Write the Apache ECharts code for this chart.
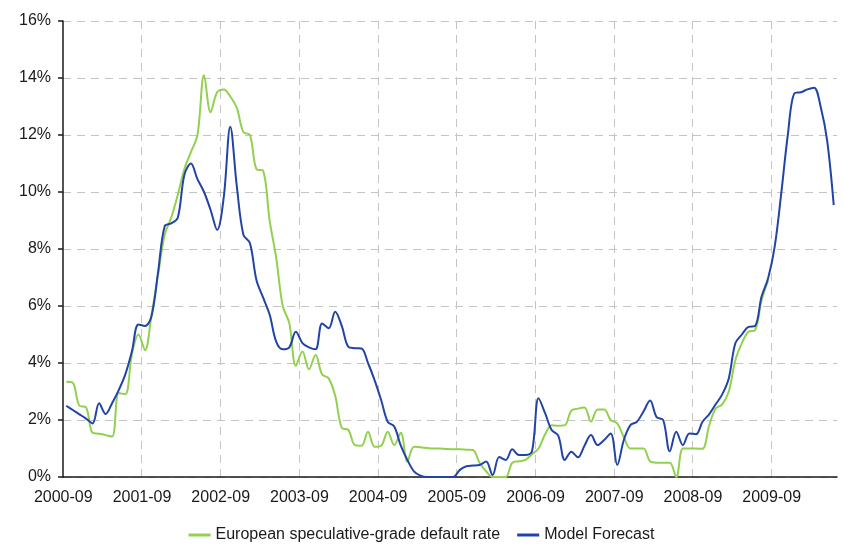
<!DOCTYPE html>
<html>
<head>
<meta charset="utf-8">
<title>European default rate vs model forecast</title>
<script src="https://cdn.jsdelivr.net/npm/echarts@6/dist/echarts.min.js"></script>
<style>
  html, body { margin: 0; padding: 0; background: #fff; }
  #chart { width: 843px; height: 548px; }
</style>
</head>
<body>
<div id="chart"></div>
<script>
// monthly, starting 2000-09
const startYear = 2000
const startMonth = 9
const monthCount = 118
const tickLabels = ['2000-09', '2001-09', '2002-09', '2003-09', '2004-09', '2005-09', '2006-09', '2007-09', '2008-09', '2009-09']
const yTicks = [0, 2, 4, 6, 8, 10, 12, 14, 16]

const seriesNames = ['European speculative-grade default rate', 'Model Forecast']

// actual default rate, %
const defaultRate = [
  3.34, 3.3, 2.5, 2.45, 1.55, 1.52, 1.47, 1.42, 2.95, 2.9,
  4.3, 5.0, 4.45, 5.7, 7.1, 8.5, 9.1, 9.9, 10.8, 11.4,
  12.0, 14.1, 12.8, 13.5, 13.6, 13.35, 12.95, 12.1, 12.0, 10.8,
  10.75, 9.0, 7.7, 6.0, 5.4, 3.9, 4.4, 3.78, 4.28, 3.6,
  3.46, 2.85, 1.72, 1.65, 1.12, 1.1, 1.59, 1.06, 1.1, 1.59,
  1.12, 1.55, 0.54, 1.06, 1.04, 1.02, 1.0, 1.0, 0.98, 0.97,
  0.97, 0.96, 0.95, 0.5, 0.2, 0, 0, 0, 0.5, 0.55,
  0.6, 0.8, 1.0, 1.5, 1.82, 1.8, 1.82, 2.33, 2.4, 2.44,
  1.94, 2.37, 2.37, 2.0, 1.88, 1.4, 1.0, 1.0, 1.0, 0.55,
  0.5, 0.5, 0.5, 0, 1.0, 1.0, 1.0, 0.99, 1.8, 2.4,
  2.55, 3.0, 4.1, 4.7, 5.1, 5.15, 6.2, 6.9
]

// model forecast, %
const modelForecast = [
  2.5, 2.35, 2.2, 2.05, 1.88, 2.59, 2.21, 2.6, 3.05, 3.6,
  4.4, 5.35, 5.3, 5.65, 7.2, 8.8, 8.9, 9.1, 10.6, 11.0,
  10.45, 10.0, 9.37, 8.67, 9.8, 12.29, 10.2, 8.5, 8.2, 6.9,
  6.3, 5.7, 4.75, 4.48, 4.55, 5.1, 4.7, 4.55, 4.48, 5.39,
  5.22, 5.8, 5.3, 4.57, 4.52, 4.51, 4.0, 3.4, 2.7, 1.94,
  1.77, 1.1, 0.6, 0.2, 0.05, 0, 0, 0, 0, 0,
  0.25, 0.38, 0.4, 0.42, 0.54, 0.07, 0.7, 0.6, 0.97, 0.77,
  0.77, 0.9, 2.76, 2.24, 1.65, 1.45, 0.6, 0.89, 0.69, 1.1,
  1.47, 1.12, 1.3, 1.53, 0.42, 1.3, 1.82, 1.94, 2.3, 2.68,
  2.1, 2.0, 0.9, 1.59, 1.12, 1.53, 1.5, 1.94, 2.2, 2.55,
  2.9, 3.46, 4.69, 5.0, 5.27, 5.3, 6.33, 6.97, 8.08, 9.95,
  12.0, 13.46, 13.5, 13.6, 13.66, 13.0, 11.8, 9.54
]

const months = []
for (let i = 0; i < monthCount; i++) {
  const m = startMonth - 1 + i
  const y = startYear + Math.floor(m / 12)
  months.push(y + '-' + String(m % 12 + 1).padStart(2, '0'))
}

const fontFamily = "'Liberation Sans', Arial, sans-serif"
const gridLine = { color: '#c4c4c4', width: 1, type: [8, 6] }

const chart = echarts.init(document.getElementById('chart'), null, { renderer: 'canvas' })
chart.setOption({
  animation: false,
  textStyle: { fontFamily: fontFamily },
  grid: { left: 63, right: 6, top: 21, bottom: 71 },
  legend: {
    bottom: 0,
    left: 'center',
    icon: 'rect',
    itemWidth: 22,
    itemHeight: 3,
    itemGap: 17,
    textStyle: { fontSize: 16, color: '#1a1a1a', fontFamily: fontFamily },
    data: seriesNames
  },
  xAxis: {
    type: 'category',
    data: months,
    boundaryGap: true,
    axisLine: { lineStyle: { color: '#1a1a1a', width: 1.5 } },
    axisTick: {
      length: 5,
      interval: (i) => i % 6 === 0,
      lineStyle: { color: '#1a1a1a', width: 1.5 }
    },
    axisLabel: {
      interval: (i, v) => tickLabels.indexOf(v) >= 0,
      fontSize: 16,
      color: '#1a1a1a',
      margin: 13,
      padding: [0, 6, 0, 0]
    },
    splitLine: {
      show: true,
      showMaxLine: false,
      interval: (i) => i % 12 === 0 && i > 0,
      lineStyle: gridLine
    }
  },
  yAxis: {
    type: 'value',
    min: yTicks[0],
    max: yTicks[yTicks.length - 1],
    interval: 2,
    axisLine: { show: true, lineStyle: { color: '#1a1a1a', width: 1.5 } },
    axisTick: { show: true, length: 5, lineStyle: { color: '#1a1a1a', width: 1.5 } },
    axisLabel: { formatter: '{value}%', fontSize: 16, color: '#1a1a1a', margin: 12 },
    splitLine: { show: true, lineStyle: gridLine }
  },
  series: [
    {
      name: seriesNames[0],
      type: 'line',
      data: defaultRate,
      smooth: 0.35,
      symbol: 'none',
      color: '#92D050',
      lineStyle: { width: 2, color: '#92D050' },
      z: 2
    },
    {
      name: seriesNames[1],
      type: 'line',
      data: modelForecast,
      smooth: 0.35,
      symbol: 'none',
      color: '#2244A6',
      lineStyle: { width: 2, color: '#2244A6' },
      z: 3
    }
  ]
})
</script>
</body>
</html>
